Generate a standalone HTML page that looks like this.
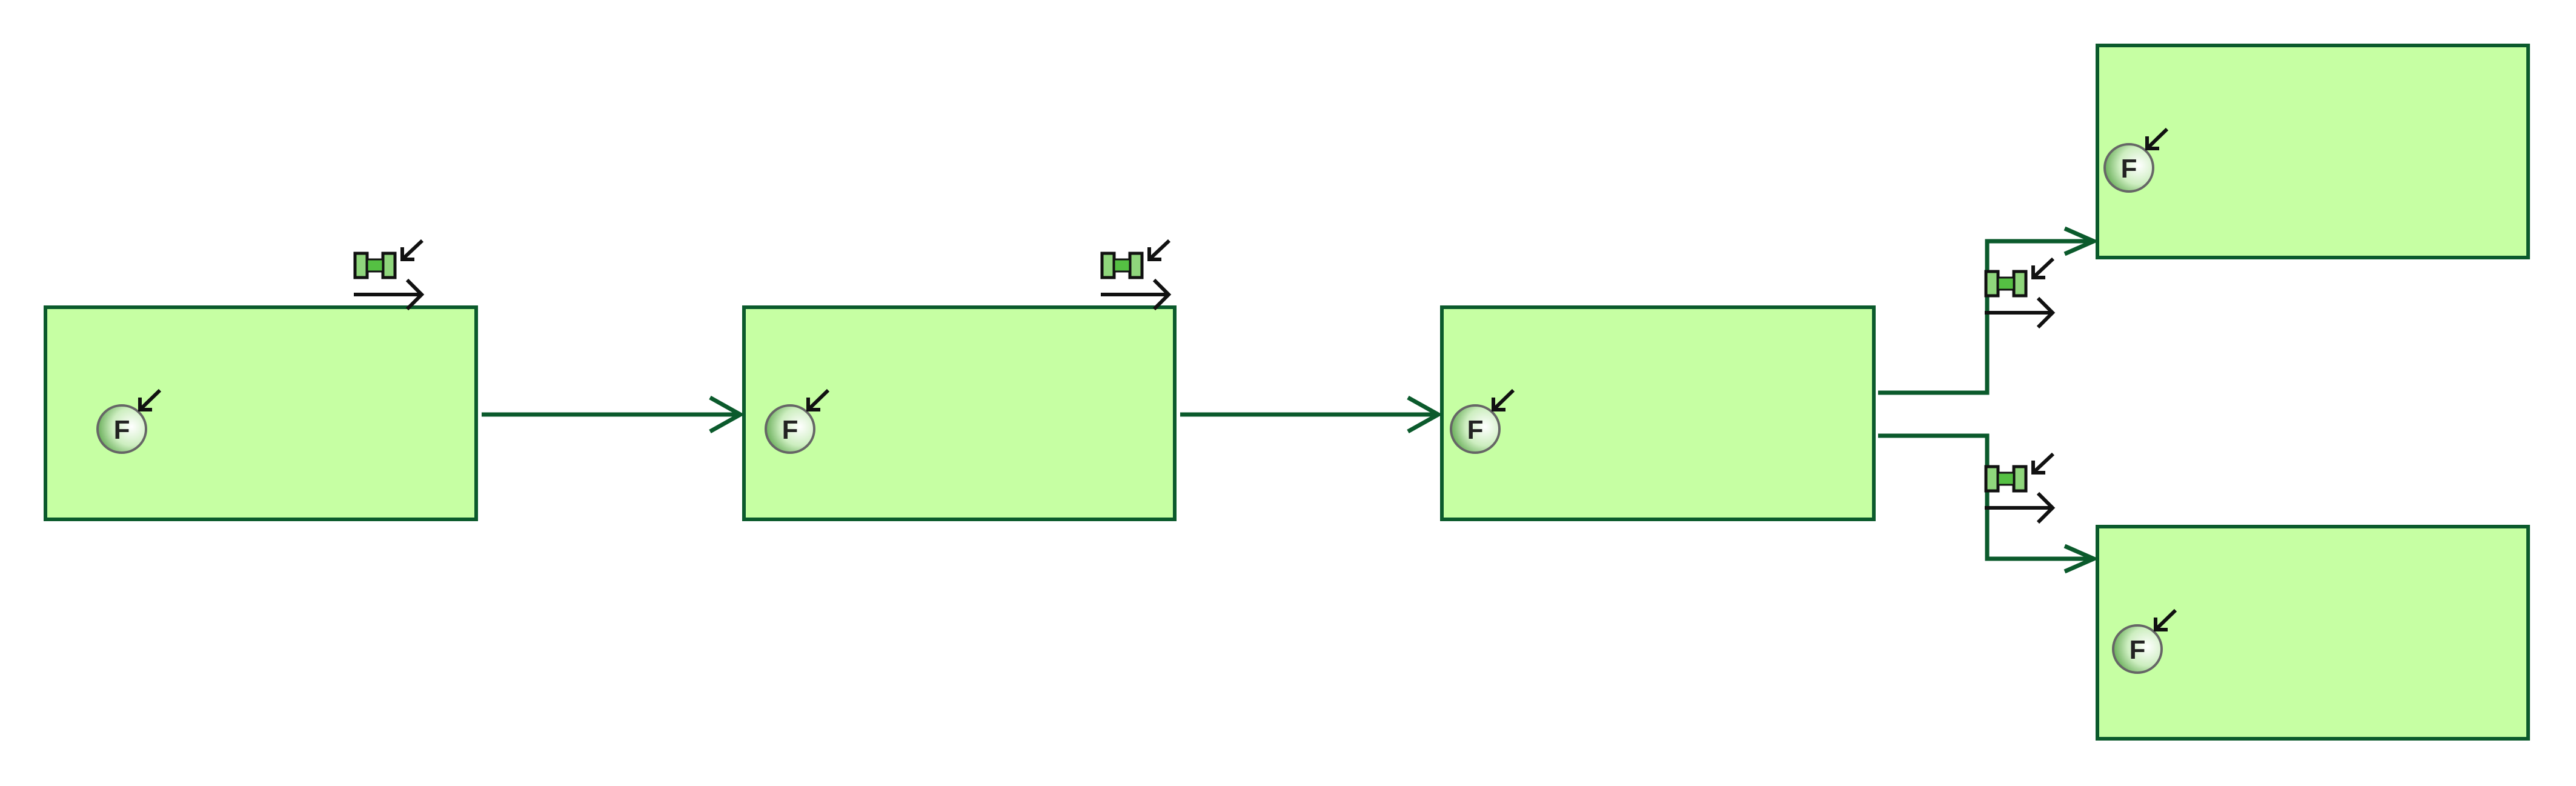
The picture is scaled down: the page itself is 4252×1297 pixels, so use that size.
<!DOCTYPE html>
<html><head><meta charset="utf-8"><style>
html,body{margin:0;padding:0;background:#fff;}
svg{display:block;}
</style></head><body>
<svg width="4252" height="1297" viewBox="0 0 4252 1297" xmlns="http://www.w3.org/2000/svg">
<defs>
<radialGradient id="fg" cx="0.7" cy="0.45" r="0.8">
<stop offset="0" stop-color="#ffffff"/><stop offset="0.5" stop-color="#cdeec0"/><stop offset="1" stop-color="#4a9a3a"/>
</radialGradient>
<g id="fic">
<ellipse cx="0" cy="0" rx="40" ry="39" fill="url(#fg)" stroke="#666" stroke-width="4"/>
<text x="0" y="16" font-family="Liberation Sans, sans-serif" font-size="44" font-weight="bold" text-anchor="middle" fill="#222">F</text>
<path d="M63 -64 L30 -32 M30 -52 L30 -32 L50 -32" stroke="#111" stroke-width="6" fill="none"/>
</g>
<g id="pic">
<rect x="2" y="2" width="20" height="40" fill="#8fd67c" stroke="#111" stroke-width="5"/>
<rect x="48" y="2" width="20" height="40" fill="#8fd67c" stroke="#111" stroke-width="5"/>
<rect x="22" y="12" width="26" height="20" fill="#55c043" stroke="#111" stroke-width="3"/>
<path d="M113 -19 L80 12 M80 -8 L80 12 L100 12" stroke="#111" stroke-width="6" fill="none"/>
<path d="M0 70 L112 70 M88 46 L112 70 L88 94" stroke="#111" stroke-width="6" fill="none"/>
</g>
</defs>
<g fill="#c6ffa3" stroke="#0b5a2c" stroke-width="6">
<rect x="75" y="507" width="711" height="350"/>
<rect x="1228" y="507" width="711" height="350"/>
<rect x="2380" y="507" width="713" height="350"/>
<rect x="3462" y="75" width="711" height="350"/>
<rect x="3462" y="869" width="711" height="350"/>
</g>
<g stroke="#0b5a2c" stroke-width="7" fill="none">
<path d="M795 684 L1222 684 M1172 656 L1222 684 L1172 712"/>
<path d="M1948 684 L2374 684 M2324 656 L2374 684 L2324 712"/>
<path d="M3100 648 L3280 648 L3280 398 L3456 398 M3408 377 L3456 398 L3408 419"/>
<path d="M3100 719 L3280 719 L3280 922 L3456 922 M3408 901 L3456 922 L3408 943"/>
</g>
<use href="#fic" x="201" y="708"/>
<use href="#fic" x="1304" y="708"/>
<use href="#fic" x="2435" y="708"/>
<use href="#fic" x="3514" y="277"/>
<use href="#fic" x="3528" y="1071"/>
<use href="#pic" x="584" y="416"/>
<use href="#pic" x="1817" y="416"/>
<use href="#pic" x="3276" y="446"/>
<use href="#pic" x="3276" y="768"/>
</svg>
</body></html>
